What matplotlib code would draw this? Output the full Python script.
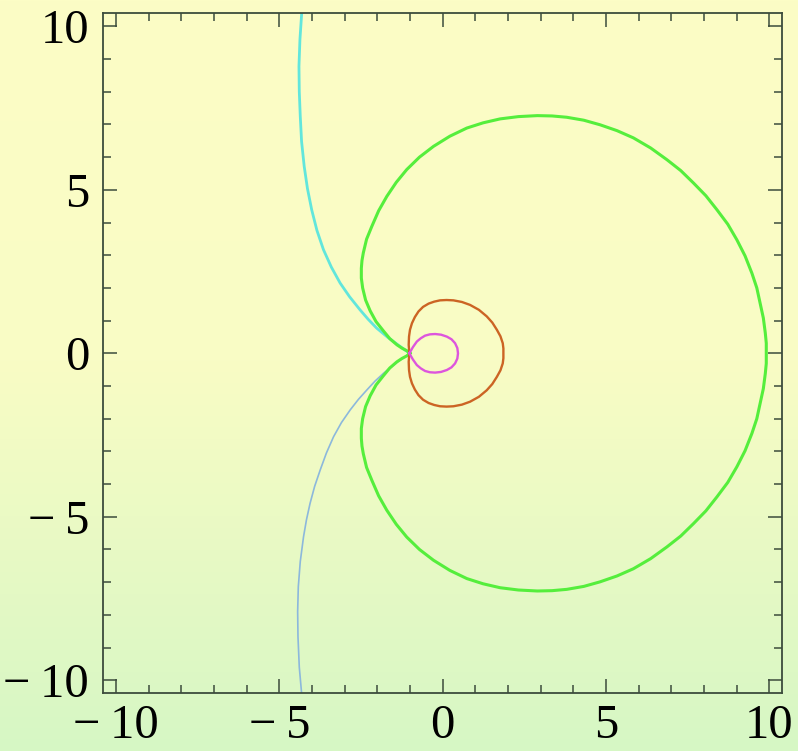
import numpy as np
import matplotlib
matplotlib.use('Agg')
import matplotlib.pyplot as plt
from matplotlib.ticker import MultipleLocator

# curve points (upper halves for the symmetric loops)
green_x = [-1.00, -1.10, -1.25, -1.40, -1.62, -1.81, -2.04, -2.22, -2.36, -2.45, -2.49, -2.49,
           -2.47, -2.43, -2.33, -2.17, -1.96, -1.71, -1.42, -1.10, -0.71, -0.28, 0.22, 0.74,
           1.24, 1.76, 2.32, 2.90, 3.35, 3.80, 4.32, 4.82, 5.34, 5.84, 6.37, 6.87, 7.29, 7.68,
           8.06, 8.40, 8.73, 9.01, 9.26, 9.47, 9.62, 9.72, 9.82, 9.88, 9.91, 9.91]
green_y = [0.00, 0.08, 0.16, 0.26, 0.45, 0.68, 0.97, 1.30, 1.63, 2.00, 2.30, 2.60,
           2.84, 3.07, 3.49, 3.88, 4.36, 4.80, 5.23, 5.62, 6.00, 6.33, 6.64, 6.89,
           7.05, 7.17, 7.24, 7.27, 7.26, 7.22, 7.13, 6.99, 6.81, 6.59, 6.28, 5.92, 5.59, 5.21,
           4.82, 4.39, 3.95, 3.47, 2.98, 2.45, 2.00, 1.54, 1.08, 0.62, 0.31, 0.00]

orange_x = [-1.02, -1.04, -1.03, -1.00, -0.94, -0.85, -0.74, -0.60, -0.43, -0.26, -0.08, 0.12,
            0.33, 0.59, 0.84, 1.11, 1.35, 1.52, 1.66, 1.77, 1.84, 1.86, 1.86]
orange_y = [0.00, 0.26, 0.51, 0.72, 0.92, 1.11, 1.28, 1.42, 1.52, 1.58, 1.62, 1.63,
            1.62, 1.57, 1.48, 1.33, 1.13, 0.94, 0.72, 0.52, 0.31, 0.15, 0.00]

magenta_x = [-1.02, -0.91, -0.79, -0.67, -0.54, -0.39, -0.23, -0.05, 0.13, 0.27, 0.38, 0.45, 0.47]
magenta_y = [0.00, 0.19, 0.36, 0.46, 0.54, 0.58, 0.59, 0.57, 0.51, 0.43, 0.31, 0.16, 0.00]

cyan_x = [-1.00, -1.15, -1.30, -1.67, -2.02, -2.28, -2.53, -2.85, -3.14, -3.41, -3.65, -3.85,
          -4.01, -4.14, -4.24, -4.32, -4.36, -4.39, -4.40, -4.37, -4.31]
cyan_y = [0.00, 0.10, 0.21, 0.48, 0.77, 1.04, 1.33, 1.73, 2.15, 2.64, 3.17, 3.76,
          4.39, 5.04, 5.72, 6.48, 7.25, 8.00, 8.78, 9.60, 10.50]

blue_x = [-1.00, -1.40, -1.81, -2.07, -2.32, -2.58, -2.83, -3.10, -3.34, -3.56, -3.75, -3.92,
          -4.06, -4.17, -4.26, -4.36, -4.42, -4.44, -4.43, -4.39, -4.31]
blue_y = [0.00, -0.28, -0.61, -0.85, -1.12, -1.41, -1.73, -2.12, -2.55, -3.05, -3.57, -4.07,
          -4.59, -5.09, -5.61, -6.37, -7.14, -7.90, -8.67, -9.60, -10.50]

ticks = [-10, -5, 0, 5, 10]
tick_labels = ["\u2212\u200910", "\u2212\u20095", "0", "5", "10"]


def mirrored(xs, ys):
    # close a loop that is symmetric about the x axis
    x = list(xs) + list(xs[::-1])[1:]
    y = list(ys) + [-v for v in ys[::-1]][1:]
    return x, y


fig = plt.figure(figsize=(7.98, 7.51), dpi=100)

# slide background: yellow at the top fading to pale green at the bottom
bg = fig.add_axes([0, 0, 1, 1])
rows = np.linspace(0, 1, 400)
top = np.array([252, 253, 198]) / 255
mid = np.array([249, 252, 197]) / 255
bot = np.array([214, 247, 196]) / 255
t = np.clip((rows - 0.48) / 0.52, 0, 1)[:, None]
base = top + (mid - top) * np.clip(rows / 0.48, 0, 1)[:, None]
grad = base * (1 - t) + bot * t
bg.imshow(grad[:, None, :], aspect='auto', extent=[0, 1, 1, 0])
bg.set_axis_off()

ax = fig.add_axes([0.1291, 0.0768, 0.8512, 0.9055])
ax.patch.set_alpha(0)

gx, gy = mirrored(green_x, green_y)
ox, oy = mirrored(orange_x, orange_y)
mx, my = mirrored(magenta_x, magenta_y)

ax.plot(blue_x, blue_y, color='#8cb8dc', lw=1.2, solid_joinstyle='round')
ax.plot(cyan_x, cyan_y, color='#62e6dc', lw=2.0, solid_joinstyle='round')
ax.plot(gx, gy, color='#55ee3c', lw=2.2, solid_joinstyle='round')
ax.plot(ox, oy, color='#cc6424', lw=1.7, solid_joinstyle='round')
ax.plot(mx, my, color='#dd55dd', lw=1.7, solid_joinstyle='round')

ax.set_xlim(-10.4, 10.4)
ax.set_ylim(-10.4, 10.4)

frame_col = '#3c4c3c'
for s in ax.spines.values():
    s.set_color(frame_col)
    s.set_linewidth(1.3)

label_font = ['Liberation Serif', 'DejaVu Serif']
ax.set_xticks(ticks)
ax.set_yticks(ticks)
ax.set_xticklabels(tick_labels, family=label_font, fontsize=35)
ax.set_yticklabels(tick_labels, family=label_font, fontsize=35)
ax.xaxis.set_minor_locator(MultipleLocator(1))
ax.yaxis.set_minor_locator(MultipleLocator(1))
ax.tick_params(which='both', direction='in', top=True, right=True, color=frame_col, width=1.1)
ax.tick_params(which='major', length=10)
ax.tick_params(which='minor', length=6)
ax.tick_params(axis='x', pad=8)
ax.tick_params(axis='y', pad=10)

fig.savefig('out.png', dpi=100)
